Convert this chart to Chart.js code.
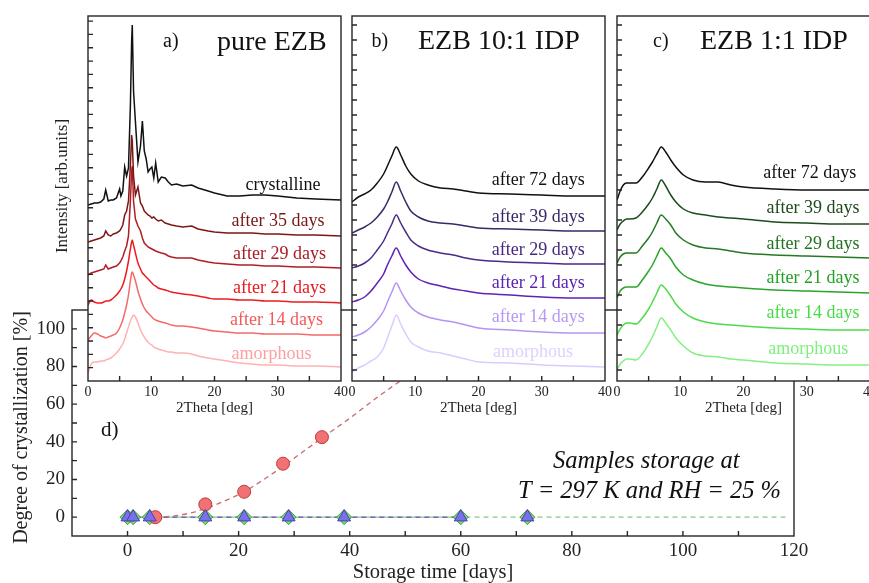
<!DOCTYPE html>
<html><head><meta charset="utf-8">
<script src="https://cdn.jsdelivr.net/npm/chart.js@4.4.1/dist/chart.umd.min.js"></script>
<style>
html,body{margin:0;padding:0;background:#fff;overflow:hidden;width:869px;height:583px;}
#wrap{position:relative;width:869px;height:583px;overflow:hidden;}
canvas{position:absolute;top:0;}
</style></head><body>
<div id="wrap">
<canvas id="cd"></canvas>
<canvas id="ca"></canvas>
<canvas id="cb"></canvas>
<canvas id="cc"></canvas>
</div>
<script>
const FONT = "'Liberation Serif','Times New Roman',serif";

// ---------- Panel a: pure EZB (2Theta grid and intensities, arb. units) ----------
const twoThetaA = [0,0.5,1,1.5,2,2.5,2.8,3.2,3.6,4,4.5,5,5.2,5.5,5.8,6.1,6.4,6.7,6.9,7.0,7.2,7.5,7.9,8.3,8.6,8.9,9.2,9.5,9.8,10.1,10.4,10.7,11.1,11.6,12.2,12.7,13.2,14,15,16.4,17.4,19,20,22,24,26,28,30,33,36,40];
const ezbCrystalline = [176,177,178,178,179,182,191,180,181,181,183,192,185,190,214,205,213,275,340,356,290,259,219,235,260,230,222,209,212,214,203,218,199,204,203,199,196,197,195,196,193,190,188,185,185,186,186,185,183,182,181];
const ezb35 = [139,140,141,142,143,145,150,146,145,147,148,150,152,156,166,170,180,215,246,240,205,186,194,178,175,170,168,166,165,163,164,162,160,161,158,157,156,155,154,155,152,150,149,148,148,148,147,147,146,146,145];
const ezb29 = [106,108,109,110,111,112,116,112,113,114,115,118,120,124,130,135,145,180,210,215,180,162,155,150,143,138,136,134,133,132,131,130,129,128,127,125,124,123,123,123,121,119,118,117,116,116,115,115,114,114,113];
const ezb21 = [76,81,79,78,78,79,80,80,81,83,86,90,92,96,102,110,120,132,139,141,136,128,118,112,108,106,104,102,100,98,96,95,93,92,91,90,89,88,87,86,85,83,82,82,81,81,80,80,79,79,78];
const ezb14 = [41,45,48,47,45,44,43,44,45,46,48,53,56,61,68,76,86,100,108,109,106,100,90,82,77,73,70,68,66,64,62,61,60,59,58,57,56,55,55,54,53,51,50,49,48,48,47,47,47,46,46];
const ezbAmorphous = [8,17,19,19,20,20,21,22,23,25,28,32,34,37,42,48,54,60,63,64,66,64,58,51,47,44,41,39,37,36,34,33,32,31,30,29,29,28,28,27,25,23,22,20,18,17,16,16,15,15,14];
const labelsA = ['crystalline','after 35 days','after 29 days','after 21 days','after 14 days','amorphous'];

// ---------- Panel b: EZB 10:1 IDP ----------
const twoThetaB = [0,1,2,3,4,5,5.6,6.3,7,7.7,8.5,9.3,10.5,12,14,16,18,20,25,30,35,40];
const idp10_72 = [179,184,187,191,198,207,215,225,234,226,215,207,200,196,193,192,190,188,187,186,185,185];
const idp10_39 = [148,151,154,158,164,172,179,189,199,190,179,170,164,160,158,157,155,153,152,151,150,150];
const idp10_29 = [113,115,118,123,131,140,148,157,166,158,149,141,135,131,128,126,123,121,119,118,117,117];
const idp10_21 = [79,81,84,90,98,107,116,125,133,125,116,109,102,98,95,92,90,88,86,84,83,83];
const idp10_14 = [44,46,49,54,61,70,79,89,98,90,81,74,68,64,61,59,56,53,51,49,48,48];
const idp10_am = [9,13,16,20,24,33,43,55,66,57,47,39,34,30,28,25,22,19,18,16,15,14];
const labelsB = ['after 72 days','after 39 days','after 29 days','after 21 days','after 14 days','amorphous'];

// ---------- Panel c: EZB 1:1 IDP ----------
const twoThetaC = [0,0.5,1,1.5,2,3,4,5,5.6,6.3,7,7.7,8.5,9.3,10.5,12,14,16,18,20,25,30,35,40];
const idp1_72 = [181,190,196,198,198,198,204,213,219,227,234,229,221,214,206,201,199,199,196,194,192,191,191,191];
const idp1_39 = [151,157,160,162,162,163,169,177,183,192,201,195,186,179,172,168,166,164,163,162,159,158,157,157];
const idp1_29 = [118,124,127,128,128,128,135,143,149,158,166,162,156,148,141,136,133,132,130,128,126,125,124,123];
const idp1_21 = [83,90,93,94,94,94,101,110,116,125,133,128,122,114,106,101,97,95,94,93,91,90,89,88];
const idp1_14 = [46,52,56,58,58,57,63,72,79,88,96,92,85,77,69,63,59,57,56,55,53,52,51,51];
const idp1_am = [11,17,20,22,22,21,27,37,44,54,63,58,51,43,35,28,25,24,22,21,18,17,16,16];
const labelsC = ['after 72 days','after 39 days','after 29 days','after 21 days','after 14 days','amorphous'];

// ---------- Panel d: degree of crystallization ----------
const daysEZB = [5,14,21,28,35];
const crystEZB = [0,6.8,13.5,28.4,42.5];
const daysIDP10 = [0,1,4,14,21,29,39,60,72];
const crystIDP10 = [0,0,0,0,0,0,0,0,0];
const daysIDP1 = [0,1,4,14,21,29,39,60,72];
const crystIDP1 = [0,0,0,0,0,0,0,0,0];
const fitEZBdays = [5,8,11,14,17,21,24,28,31,35,40,44,48,52];
const fitEZB = [0,0.5,2,4.6,8,13.5,19,27,33.5,42,52.5,61.5,70,78];
const fitIDP10days = [0,60];
const fitIDP10 = [0,0];
const fitIDP1days = [0,118.7];
const fitIDP1 = [0,0];

// ---------- helpers ----------
const pts = (xs, ys) => xs.map((x, i) => ({x: x, y: ys[i]}));

function textPlugin(items, ox) {
  return { id: 'txt', afterDraw(chart) {
    const c = chart.ctx; c.save();
    items.forEach(it => {
      c.font = (it.italic ? 'italic ' : '') + it.size + 'px ' + FONT;
      c.fillStyle = it.color || '#111';
      c.textAlign = it.align || 'left';
      c.textBaseline = it.base || 'alphabetic';
      if (it.rot) { c.save(); c.translate(it.x - ox, it.y); c.rotate(it.rot); c.fillText(it.t, 0, 0); c.restore(); }
      else c.fillText(it.t, it.x - ox, it.y);
    });
    c.restore();
  }};
}
function framePlugin(len) {
  return { id: 'frame', afterDraw(chart) {
    const {ctx, chartArea: a} = chart; const x = chart.scales.x, y = chart.scales.y;
    ctx.save(); ctx.strokeStyle = '#262626'; ctx.lineWidth = 1.4;
    ctx.beginPath();
    x.ticks.forEach(t => { const p = x.getPixelForValue(t.value); if (p > a.left + 1 && p < a.right - 1) { ctx.moveTo(p, a.bottom); ctx.lineTo(p, a.bottom - len); } });
    y.ticks.forEach(t => { const p = y.getPixelForValue(t.value); if (p > a.top + 1 && p < a.bottom - 1) { ctx.moveTo(a.left, p); ctx.lineTo(a.left + len, p); } });
    ctx.stroke();
    ctx.strokeRect(a.left, a.top, a.right - a.left, a.bottom - a.top);
    ctx.restore();
  }};
}
const areaBg = { id: 'areabg', beforeDraw(chart) { const {ctx, chartArea: a} = chart; ctx.save(); ctx.fillStyle = '#fff'; ctx.fillRect(a.left, a.top, a.right - a.left, a.bottom - a.top); ctx.restore(); } };
const fullBg = { id: 'fullbg', beforeDraw(chart) { const c = chart.ctx; c.save(); c.fillStyle = '#fff'; c.fillRect(0, 0, chart.width, chart.height); c.restore(); } };

// ---------- top panels ----------
function xrdPanel(id, plotLeft, grid, series, colors, smooth, texts, yTickStart, yTickStep) {
  const cv = document.getElementById(id);
  const PL = 45, PR = 15, W = 253 + PL + PR, H = 430;
  cv.width = W; cv.height = H; cv.style.left = (plotLeft - PL) + 'px';
  new Chart(cv, {
    type: 'line',
    data: { datasets: series.map((s, i) => ({
      data: pts(grid, s), borderColor: colors[i], borderWidth: 1.5, pointRadius: 0,
      tension: 0, cubicInterpolationMode: smooth[i] ? 'monotone' : 'default', fill: false })) },
    options: {
      responsive: false, animation: false, events: [],
      layout: { padding: { left: 0, right: PR, top: 16, bottom: 0 } },
      plugins: { legend: { display: false }, tooltip: { enabled: false } },
      scales: {
        x: { type: 'linear', min: 0, max: 40, afterFit: s => { s.height = 49; },
             grid: { display: false, drawTicks: false }, border: { display: false },
             ticks: { stepSize: 5, padding: 3, autoSkip: false, maxRotation: 0, color: '#222',
                      font: { family: FONT, size: 14 }, callback: v => (v % 10 === 0 ? String(v) : '') },
             title: { display: true, text: '2Theta [deg]', color: '#222', font: { family: FONT, size: 15 }, padding: { top: 0, bottom: 13 } } },
        y: { type: 'linear', min: 0, max: 365, afterFit: s => { s.width = PL; },
             grid: { display: false, drawTicks: false }, border: { display: false },
             ticks: { display: false },
             afterBuildTicks: s => { const t = []; for (let v = yTickStart; v < 365; v += yTickStep) t.push({ value: v }); s.ticks = t; } }
      }
    },
    plugins: [areaBg, framePlugin(5), textPlugin(texts, plotLeft - PL)]
  });
}

const colA = ['#111111', '#7d1616', '#b01d24', '#ee1a1e', '#f36a6a', '#ffb2b2'];
const txtColA = ['#111111', '#7a1616', '#a81c26', '#e8191e', '#f05a5a', '#ffa0a0'];
const yA = [190, 226, 258.5, 293, 325, 358.5];
const xA = [245.5, 231.5, 233, 233, 230, 231.5];
xrdPanel('ca', 88, twoThetaA, [ezbCrystalline, ezb35, ezb29, ezb21, ezb14, ezbAmorphous], colA,
  [false, false, false, true, true, true],
  [ { t: 'a)', x: 163, y: 47, size: 20 }, { t: 'pure EZB', x: 217, y: 50, size: 28 },
    { t: 'Intensity [arb.units]', x: 63, y: 186, size: 17, align: 'center', base: 'middle', rot: -Math.PI / 2, color: '#222' } ]
  .concat(labelsA.map((l, i) => ({ t: l, x: xA[i], y: yA[i], size: 18, color: txtColA[i] }))),
  0, 13.33);

const colB = ['#111111', '#3b2966', '#4a2a8a', '#5e22b6', '#b593f2', '#dccbff'];
const txtColB = ['#111111', '#3a2866', '#46287f', '#5a22b4', '#b898f2', '#e0d0ff'];
const yB = [185, 221.7, 255, 287.7, 321.7, 356.7];
xrdPanel('cb', 352, twoThetaB, [idp10_72, idp10_39, idp10_29, idp10_21, idp10_14, idp10_am], colB,
  [true, true, true, true, true, true],
  [ { t: 'b)', x: 371.5, y: 47, size: 20 }, { t: 'EZB 10:1 IDP', x: 418, y: 49, size: 28 } ]
  .concat(labelsB.map((l, i) => ({ t: l, x: i === 5 ? 493 : 491.7, y: yB[i], size: 18, color: txtColB[i] }))),
  11, 15);

const colC = ['#111111', '#1d4b1d', '#257825', '#2da42d', '#4ddb4d', '#84f084'];
const txtColC = ['#111111', '#1c4a1c', '#217321', '#23a023', '#45dc45', '#7cf07c'];
const yC = [178.3, 212.7, 249.3, 283.3, 317.7, 354];
xrdPanel('cc', 617, twoThetaC, [idp1_72, idp1_39, idp1_29, idp1_21, idp1_14, idp1_am], colC,
  [true, true, true, true, true, true],
  [ { t: 'c)', x: 653, y: 47, size: 20 }, { t: 'EZB 1:1 IDP', x: 700, y: 49, size: 28 } ]
  .concat(labelsC.map((l, i) => ({ t: l, x: i === 0 ? 763.3 : (i === 5 ? 768.3 : 766.5), y: yC[i], size: 18, color: txtColC[i] }))),
  11, 15);

// ---------- panel d ----------
(function () {
  const cv = document.getElementById('cd');
  cv.width = 869; cv.height = 583; cv.style.left = '0px';
  const dash = [5, 4];
  new Chart(cv, {
    type: 'scatter',
    data: { datasets: [
      { label: 'EZB 10:1 IDP', data: pts(daysIDP10, crystIDP10), pointStyle: 'triangle', pointRadius: 7.5,
        backgroundColor: '#7a70ea', borderColor: '#4c40b4', borderWidth: 1, order: 1 },
      { label: 'pure EZB', data: pts(daysEZB, crystEZB), pointStyle: 'circle', pointRadius: 6.5,
        backgroundColor: '#f07272', borderColor: '#c23a3a', borderWidth: 1, order: 2 },
      { label: 'EZB 1:1 IDP', data: pts(daysIDP1, crystIDP1), pointStyle: 'rectRot', pointRadius: 7.5,
        backgroundColor: '#74e074', borderColor: '#3ca03c', borderWidth: 1, order: 3 },
      { label: 'fit EZB', data: pts(fitEZBdays, fitEZB), showLine: true, pointRadius: 0, borderColor: '#c86a6a',
        borderWidth: 1.3, borderDash: dash, cubicInterpolationMode: 'monotone', order: 4 },
      { label: 'fit 10:1', data: pts(fitIDP10days, fitIDP10), showLine: true, pointRadius: 0,
        borderColor: '#4a3e9e', borderWidth: 1.3, borderDash: dash, order: 5 },
      { label: 'fit 1:1', data: pts(fitIDP1days, fitIDP1), showLine: true, pointRadius: 0, borderColor: '#86c886',
        borderWidth: 1.3, borderDash: dash, borderDashOffset: 4, order: 6 }
    ] },
    options: {
      responsive: false, animation: false, events: [],
      layout: { padding: { left: 0, right: 75, top: 310, bottom: 0 } },
      plugins: { legend: { display: false }, tooltip: { enabled: false } },
      scales: {
        x: { type: 'linear', min: -10, max: 120, afterFit: s => { s.height = 47; },
             grid: { display: false, drawTicks: false }, border: { display: false },
             ticks: { stepSize: 10, padding: 4, autoSkip: false, maxRotation: 0, color: '#222',
                      font: { family: FONT, size: 19 }, callback: v => (v >= 0 && v % 20 === 0 ? String(v) : '') },
             title: { display: true, text: 'Storage time [days]', color: '#222', font: { family: FONT, size: 20.5, lineHeight: 1 }, padding: { top: 0, bottom: 0 } } },
        y: { type: 'linear', min: -10, max: 110, afterFit: s => { s.width = 72; },
             grid: { display: false, drawTicks: false }, border: { display: false },
             ticks: { stepSize: 10, padding: 7, autoSkip: false, color: '#222',
                      font: { family: FONT, size: 19 }, callback: v => (v >= 0 && v <= 100 && v % 20 === 0 ? String(v) : '') } }
      }
    },
    plugins: [fullBg, framePlugin(5), textPlugin([
      { t: 'Degree of crystallization [%]', x: 22, y: 427.5, size: 20, align: 'center', base: 'middle', rot: -Math.PI / 2, color: '#222' },
      { t: 'd)', x: 101, y: 436, size: 21 },
      { t: 'Samples storage at', x: 553, y: 468, size: 24.5, italic: true },
      { t: 'T = 297 K and RH = 25 %', x: 781, y: 498, size: 24.5, italic: true, align: 'right' }
    ], 0)]
  });
})();
</script>
</body></html>
